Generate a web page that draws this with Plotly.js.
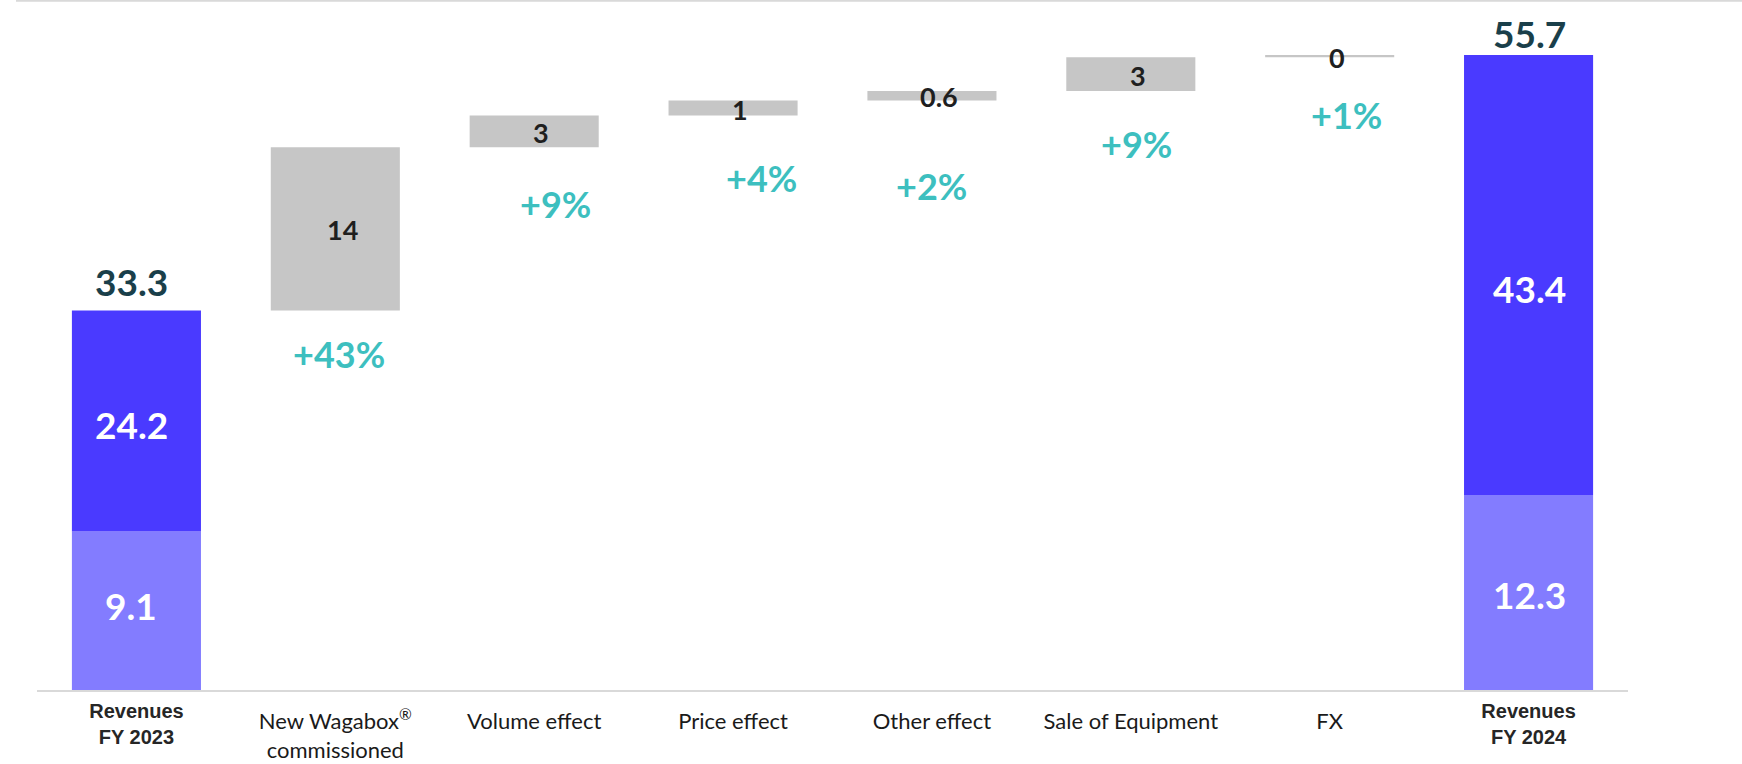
<!DOCTYPE html>
<html><head><meta charset="utf-8">
<script src="https://cdn.plot.ly/plotly-3.0.1.min.js"></script>
<style>html,body{margin:0;padding:0;background:#fff;overflow:hidden}#chart{width:1742px;height:764px}</style>
</head><body><div id="chart"></div>
<script>
// ---- data ----
const categories = ['Revenues FY 2023','New Wagabox® commissioned','Volume effect','Price effect','Other effect','Sale of Equipment','FX','Revenues FY 2024'];
const tickLabels = [['Revenues','FY 2023'],['New Wagabox<sup>®</sup>','commissioned'],['Volume effect'],['Price effect'],['Other effect'],['Sale of Equipment'],['FX'],['Revenues','FY 2024']];
const totalValues = [33.3, 55.7];
const totalLabels = ['33.3', '55.7'];
const lowerSegment = [13.9, 17.1];      // lighter segment as drawn
const upperSegment = [19.4, 38.6];      // darker segment as drawn
const lowerLabels = ['9.1', '12.3'];
const upperLabels = ['24.2', '43.4'];
const bridgeValues = [14.3, 2.8, 1.3, 0.85, 2.95, 0.2];
const bridgeLabels = ['14', '3', '1', '0.6', '3', '0'];
const growthLabels = ['+43%', '+9%', '+4%', '+2%', '+9%', '+1%'];

// ---- styles / positions ----
const C = {dark:'#4a3aff', light:'#837cff', gray:'#c6c6c6', total:'#1a3f4a', pct:'#3dbfbf', ink:'#1f1f1f', axis:'#d9d9d9'};
const FONT = 'Lato, "Open Sans", sans-serif';
const pctShiftX = [4, 21, 28, 0, 6, 17];
const pctShiftY = [-20, -33, -39, -61, -29, -34];
const totalShiftX = [-5, 1];
const totalShiftY = [4, -2.5];
const endShiftX = [-5, 1];
const lowerShiftY = [5, -2];
const upperShiftY = [-4, -13];

const nCat = categories.length;
const endCats = [categories[0], categories[nCat - 1]];
const bridgeCats = categories.slice(1, nCat - 1);
const bridgeBase = [];
let run = totalValues[0];
bridgeValues.forEach(v => { bridgeBase.push(run); run += v; });

const traces = [
  {type:'bar', x:endCats, y:lowerSegment, base:[0,0], xaxis:'x2', marker:{color:C.light}, hoverinfo:'skip'},
  {type:'bar', x:endCats, y:upperSegment, base:lowerSegment, xaxis:'x2', marker:{color:C.dark}, hoverinfo:'skip'},
  {type:'bar', x:bridgeCats, y:bridgeValues, base:bridgeBase, marker:{color:C.gray}, hoverinfo:'skip'}
];

const annotations = [];
endCats.forEach((c, i) => {
  annotations.push({x:c, y:totalValues[i], xref:'x2', yref:'y', text:totalLabels[i],
    showarrow:false, yanchor:'bottom', xshift:totalShiftX[i], yshift:totalShiftY[i],
    font:{family:FONT, size:37, color:C.total, weight:700}});
  annotations.push({x:c, y:lowerSegment[i] / 2, xref:'x2', yref:'y', text:lowerLabels[i],
    showarrow:false, yanchor:'middle', xshift:endShiftX[i], yshift:lowerShiftY[i],
    font:{family:FONT, size:37, color:'#ffffff', weight:700}});
  annotations.push({x:c, y:lowerSegment[i] + upperSegment[i] / 2, xref:'x2', yref:'y', text:upperLabels[i],
    showarrow:false, yanchor:'middle', xshift:endShiftX[i], yshift:upperShiftY[i],
    font:{family:FONT, size:37, color:'#ffffff', weight:700}});
});
bridgeCats.forEach((c, i) => {
  annotations.push({x:c, y:bridgeBase[i] + bridgeValues[i] / 2, xref:'x', yref:'y', text:bridgeLabels[i],
    showarrow:false, yanchor:'middle', xshift:7, yshift:-1,
    font:{family:FONT, size:27, color:C.ink, weight:700}});
  annotations.push({x:c, y:bridgeBase[i], xref:'x', yref:'y', text:growthLabels[i],
    showarrow:false, yanchor:'top', xshift:pctShiftX[i], yshift:pctShiftY[i],
    font:{family:FONT, size:36, color:C.pct, weight:700}});
});

const midTicks = tickLabels.slice(1, nCat - 1).map(l => l.join('<br>'));
const endTicks = [tickLabels[0], tickLabels[nCat - 1]].map(l => l.join('<br>'));
const catRange = [-0.5, nCat - 0.5];

const layout = {
  width:1742, height:764,
  margin:{l:37, r:114, t:6, b:74, pad:0},
  paper_bgcolor:'#ffffff', plot_bgcolor:'#ffffff',
  barmode:'overlay', bargap:0.351, showlegend:false,
  xaxis:{type:'category', categoryorder:'array', categoryarray:categories, range:catRange,
    tickvals:bridgeCats, ticktext:midTicks,
    showline:true, linecolor:C.axis, linewidth:2, ticks:'', showgrid:false, zeroline:false,
    tickfont:{family:FONT, size:22, color:'#1a1a1a'}, ticklabelstandoff:11, fixedrange:true},
  xaxis2:{type:'category', categoryorder:'array', categoryarray:categories, range:catRange,
    overlaying:'x', anchor:'y', side:'bottom',
    tickvals:endCats, ticktext:endTicks,
    showline:false, ticks:'', showgrid:false, zeroline:false,
    tickfont:{family:'"Liberation Sans", Arial, sans-serif', size:20, color:'#262626', weight:700},
    ticklabelstandoff:7, fixedrange:true},
  yaxis:{range:[0, 60], visible:false, fixedrange:true},
  annotations:annotations,
  shapes:[{type:'line', xref:'paper', yref:'paper', x0:(16-37)/1591, x1:(1742-37)/1591, y0:(690-0.8)/684, y1:(690-0.8)/684,
    line:{color:C.axis, width:2}}]
};

Plotly.newPlot('chart', traces, layout, {displayModeBar:false, staticPlot:true});
</script></body></html>
